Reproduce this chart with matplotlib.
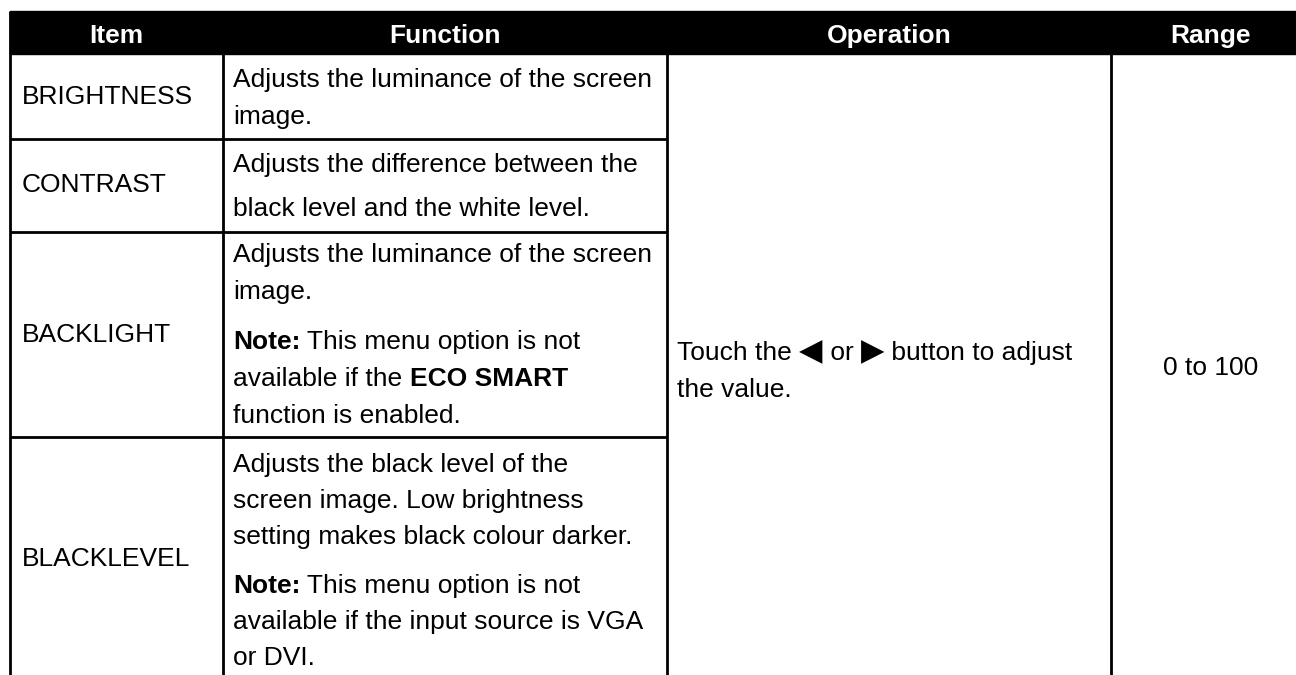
import matplotlib.pyplot as plt
from matplotlib.patches import Rectangle

plt.rcParams['font.family'] = ['Liberation Sans', 'DejaVu Sans']

# table content
headers = ['Item', 'Function', 'Operation', 'Range']
items = ['BRIGHTNESS', 'CONTRAST', 'BACKLIGHT', 'BLACKLEVEL']

# each row: list of paragraphs, each paragraph a list of lines, each line a list of (text, bold) runs
functions = [
    [[[('Adjusts the luminance of the screen', False)],
      [('image.', False)]]],
    [[[('Adjusts the difference between the', False)],
      [('black level and the white level.', False)]]],
    [[[('Adjusts the luminance of the screen', False)],
      [('image.', False)]],
     [[('Note:', True), (' This menu option is not', False)],
      [('available if the ', False), ('ECO SMART', True)],
      [('function is enabled.', False)]]],
    [[[('Adjusts the black level of the', False)],
      [('screen image. Low brightness', False)],
      [('setting makes black colour darker.', False)]],
     [[('Note:', True), (' This menu option is not', False)],
      [('available if the input source is VGA', False)],
      [('or DVI.', False)]]],
]
operation_line1 = ['Touch the ', '\u25C0', ' or ', '\u25B6', ' button to adjust']
operation_line2 = 'the value.'
value_range = '0 to 100'

# layout (pixels)
W, H = 1296, 675
col_edges = [10, 223, 667, 1111, 1310]
header_top, header_bottom = 11, 54
row_edges = [54, 139, 232, 437, 680]
first_off = [33, 33, 30, 35]
line_step = [37, 44, 37, 36]
para_gap = 13
fs = 19
lw = 2.0

fig = plt.figure(figsize=(W / 100, H / 100), dpi=100)
ax = fig.add_axes([0, 0, 1, 1])
ax.set_xlim(0, W)
ax.set_ylim(H, 0)
ax.axis('off')
renderer = fig.canvas.get_renderer()

# header band
ax.add_patch(Rectangle((col_edges[0], header_top), col_edges[-1] - col_edges[0],
                       header_bottom - header_top, color='black', zorder=1))
for i, h in enumerate(headers):
    xc = (col_edges[i] + col_edges[i + 1]) / 2
    ax.text(xc, 43, h, color='white', fontsize=fs, fontweight='bold',
            ha='center', va='baseline', zorder=3)

# grid lines
for x in col_edges:
    ax.plot([x, x], [header_top, row_edges[-1]], color='black', lw=lw,
            solid_capstyle='butt', zorder=2)
for y in row_edges[1:-1]:
    ax.plot([col_edges[0], col_edges[2]], [y, y], color='black', lw=lw,
            solid_capstyle='butt', zorder=2)


def draw_runs(x, y, runs, size=fs):
    for run in runs:
        txt, bold = run[0], run[1]
        s = run[2] if len(run) > 2 else size
        t = ax.text(x, y, txt, fontsize=s, fontweight='bold' if bold else 'normal',
                    ha='left', va='baseline', color='black')
        bb = t.get_window_extent(renderer)
        x += bb.width


for r, item in enumerate(items):
    top, bot = row_edges[r], row_edges[r + 1]
    ax.text(col_edges[0] + 12, (top + bot) / 2, item, fontsize=fs,
            ha='left', va='center')
    y = top + first_off[r]
    for p, para in enumerate(functions[r]):
        if p > 0:
            y += para_gap
        for line in para:
            draw_runs(col_edges[1] + 10, y, line)
            y += line_step[r]

# merged operation / range cells
op_runs = [(t, False, 22 if t.strip() in ('\u25C0', '\u25B6') else fs) for t in operation_line1]
draw_runs(col_edges[2] + 10, 360, op_runs)
ax.text(col_edges[2] + 10, 397, operation_line2, fontsize=fs, ha='left', va='baseline')
ax.text((col_edges[3] + col_edges[4]) / 2, 368, value_range, fontsize=fs,
        ha='center', va='center')

fig.savefig('out.png', dpi=100, facecolor='white')
